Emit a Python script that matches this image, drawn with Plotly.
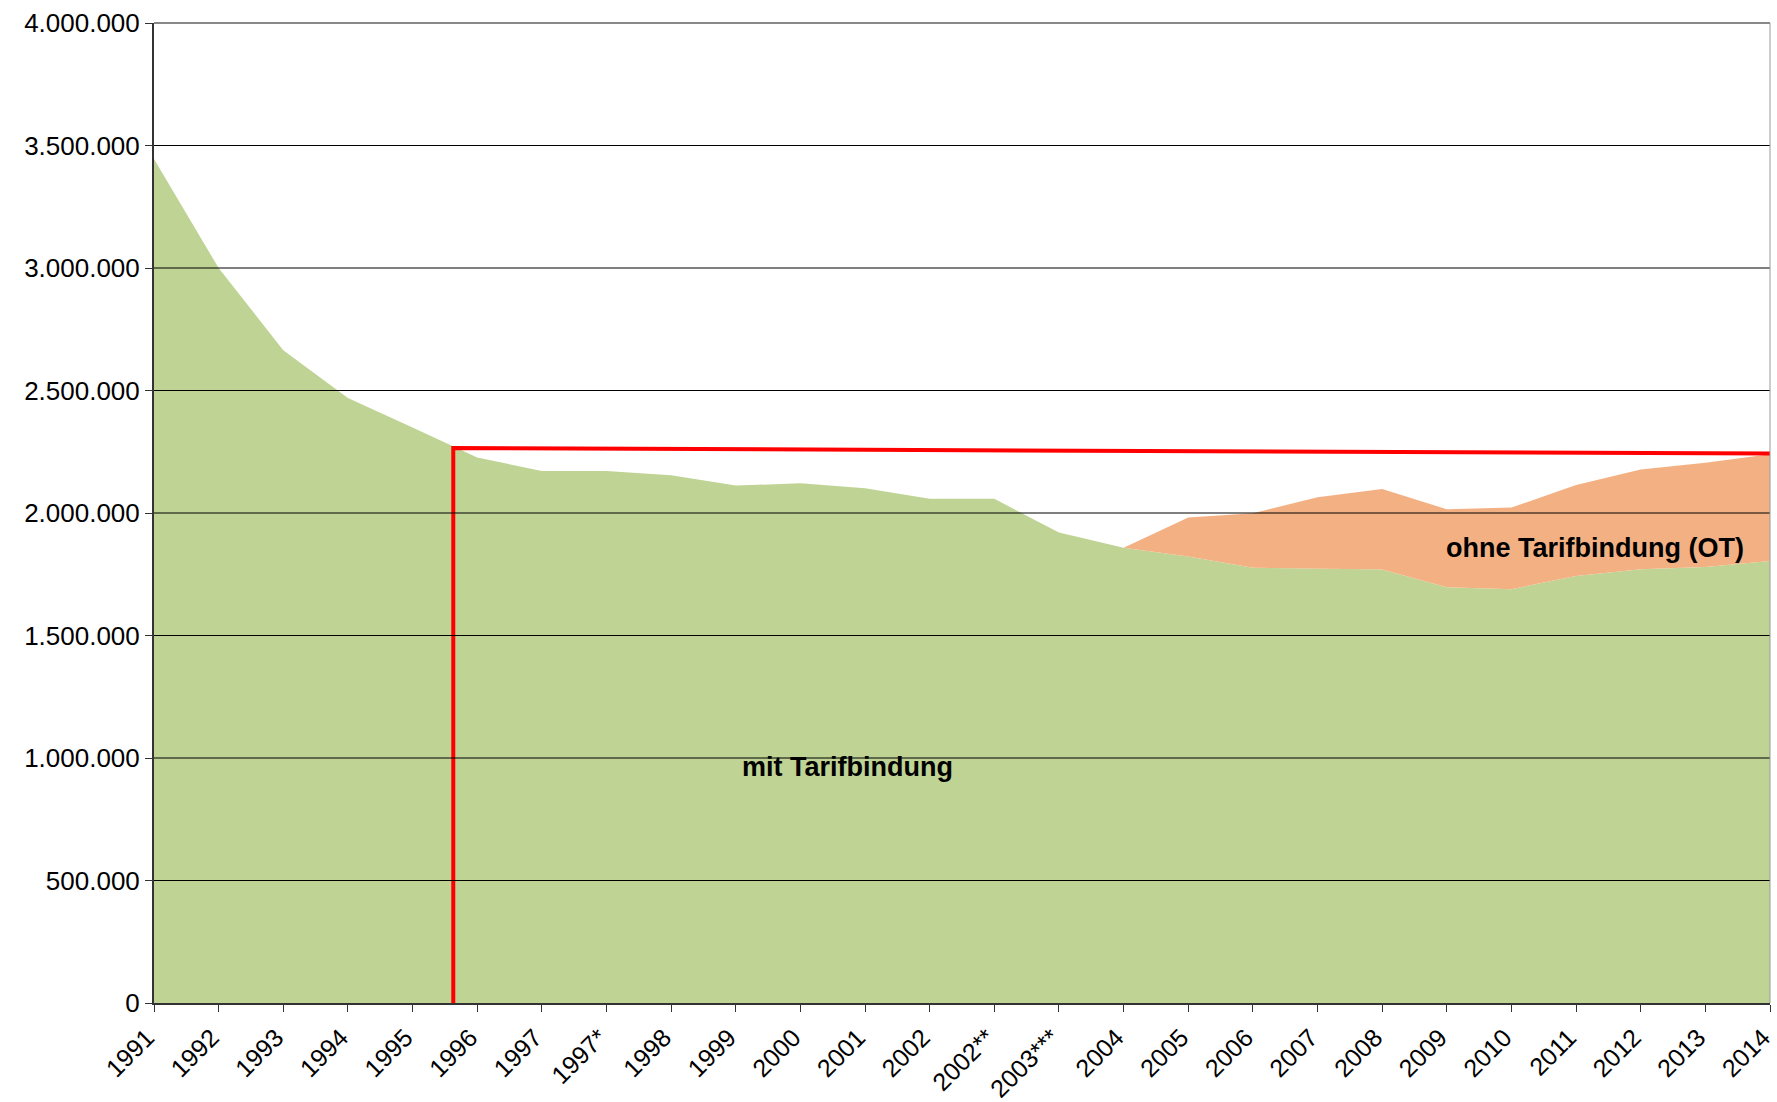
import plotly.graph_objects as go

# Categories (x-axis tick labels)
years = ["1991", "1992", "1993", "1994", "1995", "1996", "1997", "1997*", "1998", "1999",
         "2000", "2001", "2002", "2002**", "2003***", "2004", "2005", "2006", "2007", "2008",
         "2009", "2010", "2011", "2012", "2013", "2014"]

# Employees with collective agreement (mit Tarifbindung)
mit_tarif = [3445000, 3000000, 2664000, 2469000, 2349000, 2227000, 2171000, 2171000, 2154000, 2112000,
             2121000, 2101000, 2058000, 2058000, 1920000, 1858000, 1822000, 1777000, 1773000, 1769000,
             1697000, 1689000, 1743000, 1770000, 1780000, 1804000]

# Years with OT data and total (mit + ohne) values
ot_years = ["2004", "2005", "2006", "2007", "2008", "2009", "2010", "2011", "2012", "2013", "2014"]
total_with_ot = [1858000, 1982000, 1999000, 2064000, 2098000, 2015000, 2022000, 2114000, 2178000, 2205000, 2240000]

# Red reference line (position between 1995 and 1996, level values)
red_x = 4.63
red_y_start = 2265000
red_y_end = 2243000

y_ticks = [0, 500000, 1000000, 1500000, 2000000, 2500000, 3000000, 3500000, 4000000]

idx = list(range(len(years)))
ot_idx = [years.index(y) for y in ot_years]
mit_ot = [mit_tarif[i] for i in ot_idx]

GREEN = "#BFD494"
ORANGE = "#F3B183"
FONT = "Liberation Sans, Arial, sans-serif"

fig = go.Figure()
fig.add_trace(go.Scatter(x=idx, y=mit_tarif, mode="lines", line=dict(width=0),
                         fill="tozeroy", fillcolor=GREEN, hoverinfo="skip", showlegend=False))
fig.add_trace(go.Scatter(x=ot_idx, y=mit_ot, mode="lines", line=dict(width=0),
                         hoverinfo="skip", showlegend=False))
fig.add_trace(go.Scatter(x=ot_idx, y=total_with_ot, mode="lines", line=dict(width=0),
                         fill="tonexty", fillcolor=ORANGE, hoverinfo="skip", showlegend=False))

# gridlines drawn above the areas (as in the reference)
for v in y_ticks[1:-1]:
    fig.add_shape(type="line", xref="paper", yref="y", x0=0, x1=1, y0=v, y1=v,
                  line=dict(color="#000000", width=1), layer="above")

fig.add_trace(go.Scatter(x=[red_x, red_x, idx[-1]], y=[0, red_y_start, red_y_end], mode="lines",
                         line=dict(color="#FF0000", width=4), hoverinfo="skip", showlegend=False))

fig.add_annotation(x=10.73, y=962000, text="<b>mit Tarifbindung</b>", showarrow=False,
                   font=dict(family=FONT, size=27, color="black"))
fig.add_annotation(x=22.3, y=1859000, text="<b>ohne Tarifbindung (OT)</b>", showarrow=False,
                   font=dict(family=FONT, size=27, color="black"))

# top and right border
fig.add_shape(type="line", xref="paper", yref="paper", x0=0, x1=1, y0=1, y1=1,
              line=dict(color="#888888", width=2))
fig.add_shape(type="line", xref="paper", yref="paper", x0=1, x1=1, y0=0, y1=1,
              line=dict(color="#999999", width=1))

fig.update_layout(
    width=1777, height=1102,
    margin=dict(l=154, r=7, t=23, b=99, autoexpand=False),
    paper_bgcolor="white", plot_bgcolor="white",
    separators=",.",
    font=dict(family=FONT, size=26, color="black"),
    xaxis=dict(range=[0, len(years) - 1], tickmode="array", tickvals=idx, ticktext=years,
               tickangle=-45, showgrid=False, zeroline=False, showline=True,
               linecolor="#333333", linewidth=2, ticks="outside", ticklen=7,
               tickcolor="#333333", tickfont=dict(family=FONT, size=25),
               ticklabelstandoff=1, ticklabelshift=-7,
               automargin=False, ticklabeloverflow="allow"),
    yaxis=dict(range=[0, 4000000], tickmode="array", tickvals=y_ticks, tickformat=",d",
               showgrid=False, zeroline=False,
               showline=True, linecolor="#333333", linewidth=2, ticks="outside",
               ticklen=7, tickcolor="#333333", tickfont=dict(family=FONT, size=26),
               automargin=False),
)

# remove the default page margin so the 1777x1102 figure fills the window exactly
fig.write_html("out.html", config={"displayModeBar": False},
               post_script="document.body.style.margin='0px';document.body.style.overflow='hidden';")
